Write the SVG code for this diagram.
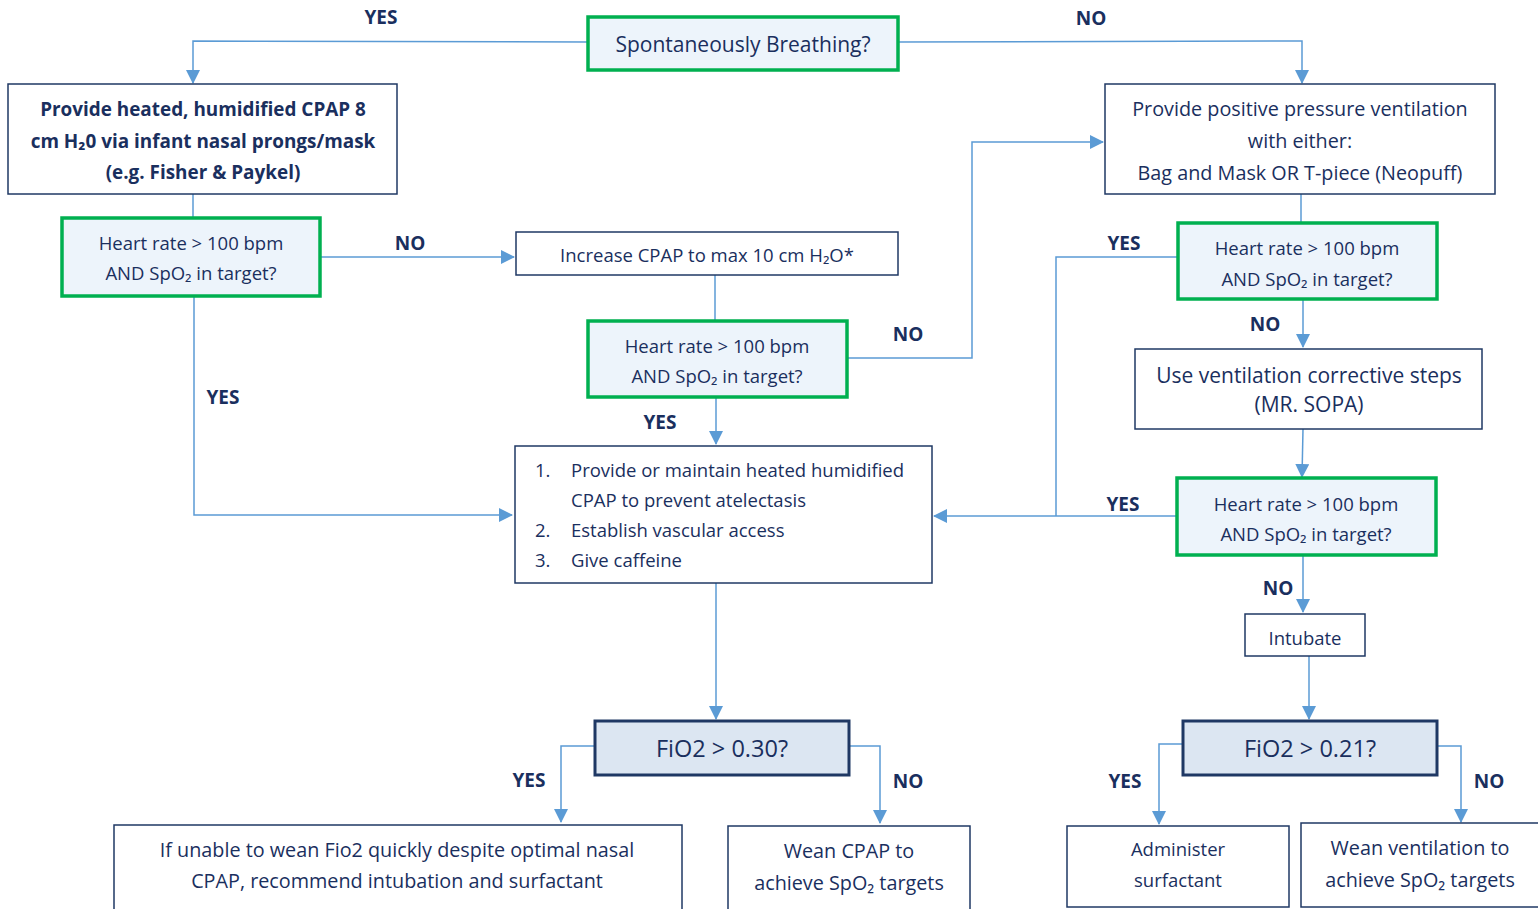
<svg xmlns="http://www.w3.org/2000/svg" width="1538" height="909" viewBox="0 0 1538 909">
<style>
text{font-family:"Open Sans","Noto Sans",sans-serif;fill:#1a2f5e;text-anchor:middle;}
.t{font-size:18.5px;}
.t2{font-size:19.8px;}
.tb{font-size:18.9px;font-weight:bold;}
.lb{font-size:19px;font-weight:bold;}
.big{font-size:21px;}
.fi{font-size:23.5px;}
.box{fill:#fff;stroke:#1f3864;stroke-width:1.5;}
.q{fill:#edf4fb;stroke:#00b050;stroke-width:3.5;}
.f{fill:#dce6f2;stroke:#1f3864;stroke-width:3;}
.c{fill:none;stroke:#5b9bd5;stroke-width:1.5;}
.l{text-anchor:start;}
</style>
<defs>
<marker id="a" markerWidth="14" markerHeight="14" refX="13" refY="7" orient="auto" markerUnits="userSpaceOnUse">
<path d="M0,0 L14,7 L0,14 Z" fill="#5b9bd5"/>
</marker>
</defs>
<rect width="1538" height="909" fill="#fff"/>
<g id="connectors">
<path class="c" d="M588,42 L193,41 L193,83" marker-end="url(#a)"/>
<path class="c" d="M898,42 L1302,41 L1302,83" marker-end="url(#a)"/>
<path class="c" d="M193,194 L193,217"/>
<path class="c" d="M320,257 L514,257" marker-end="url(#a)"/>
<path class="c" d="M194,296 L194,515 L512,515" marker-end="url(#a)"/>
<path class="c" d="M715,275 L715,320"/>
<path class="c" d="M847,358 L972,358 L972,142 L1103,142" marker-end="url(#a)"/>
<path class="c" d="M716,397 L716,444" marker-end="url(#a)"/>
<path class="c" d="M1301,194 L1301,222"/>
<path class="c" d="M1178,257 L1056,257 L1056,516"/>
<path class="c" d="M1303,299 L1303,347" marker-end="url(#a)"/>
<path class="c" d="M1303,429 L1302,477" marker-end="url(#a)"/>
<path class="c" d="M1177,516 L934,516" marker-end="url(#a)"/>
<path class="c" d="M1303,555 L1303,612" marker-end="url(#a)"/>
<path class="c" d="M1309,656 L1309,719" marker-end="url(#a)"/>
<path class="c" d="M716,583 L716,719" marker-end="url(#a)"/>
<path class="c" d="M595,746 L561,746 L561,822" marker-end="url(#a)"/>
<path class="c" d="M849,746 L880,746 L880,823" marker-end="url(#a)"/>
<path class="c" d="M1183,744 L1159,744 L1159,824" marker-end="url(#a)"/>
<path class="c" d="M1437,746 L1461,746 L1461,822" marker-end="url(#a)"/>
</g>
<g id="labels">
<text class="lb" x="381" y="24">YES</text>
<text class="lb" x="1091" y="25">NO</text>
<text class="lb" x="410" y="250">NO</text>
<text class="lb" x="223" y="404">YES</text>
<text class="lb" x="908" y="341">NO</text>
<text class="lb" x="660" y="429">YES</text>
<text class="lb" x="1124" y="250">YES</text>
<text class="lb" x="1265" y="331">NO</text>
<text class="lb" x="1123" y="511">YES</text>
<text class="lb" x="1278" y="595">NO</text>
<text class="lb" x="529" y="787">YES</text>
<text class="lb" x="908" y="788">NO</text>
<text class="lb" x="1125" y="788">YES</text>
<text class="lb" x="1489" y="788">NO</text>
</g>
<g id="n-spont">
<rect class="q" x="588" y="17" width="310" height="53"/>
<text class="big" x="743" y="52">Spontaneously Breathing?</text>
</g>
<g id="n-cpap">
<rect class="box" x="8" y="84" width="389" height="110"/>
<text class="tb" x="203" y="116">Provide heated, humidified CPAP 8</text>
<text class="tb" x="203" y="148">cm H₂0 via infant nasal prongs/mask</text>
<text class="tb" x="203" y="179">(e.g. Fisher &amp; Paykel)</text>
</g>
<g id="n-hr1">
<rect class="q" x="62" y="218" width="258" height="78"/>
<text class="t" x="191" y="250">Heart rate &gt; 100 bpm</text>
<text class="t" x="191" y="280">AND SpO₂ in target?</text>
</g>
<g id="n-increase">
<rect class="box" x="516" y="232" width="382" height="43"/>
<text class="t" x="707" y="262">Increase CPAP to max 10 cm H₂O*</text>
</g>
<g id="n-hr2">
<rect class="q" x="588" y="321" width="259" height="76"/>
<text class="t" x="717" y="353">Heart rate &gt; 100 bpm</text>
<text class="t" x="717" y="383">AND SpO₂ in target?</text>
</g>
<g id="n-list">
<rect class="box" x="515" y="446" width="417" height="137"/>
<text class="t l" x="535" y="477">1.</text>
<text class="t l" x="571" y="477">Provide or maintain heated humidified</text>
<text class="t l" x="571" y="507">CPAP to prevent atelectasis</text>
<text class="t l" x="535" y="537">2.</text>
<text class="t l" x="571" y="537">Establish vascular access</text>
<text class="t l" x="535" y="567">3.</text>
<text class="t l" x="571" y="567">Give caffeine</text>
</g>
<g id="n-ppv">
<rect class="box" x="1105" y="84" width="390" height="110"/>
<text class="t2" x="1300" y="116">Provide positive pressure ventilation</text>
<text class="t2" x="1300" y="148">with either:</text>
<text class="t2" x="1300" y="180">Bag and Mask OR T-piece (Neopuff)</text>
</g>
<g id="n-hr3">
<rect class="q" x="1178" y="223" width="259" height="76"/>
<text class="t" x="1307" y="255">Heart rate &gt; 100 bpm</text>
<text class="t" x="1307" y="286">AND SpO₂ in target?</text>
</g>
<g id="n-sopa">
<rect class="box" x="1135" y="349" width="347" height="80"/>
<text class="big" x="1309" y="383">Use ventilation corrective steps</text>
<text class="big" x="1309" y="412">(MR. SOPA)</text>
</g>
<g id="n-hr4">
<rect class="q" x="1177" y="478" width="259" height="77"/>
<text class="t" x="1306" y="511">Heart rate &gt; 100 bpm</text>
<text class="t" x="1306" y="541">AND SpO₂ in target?</text>
</g>
<g id="n-intubate">
<rect class="box" x="1245" y="614" width="120" height="42"/>
<text class="t" x="1305" y="645">Intubate</text>
</g>
<g id="n-fio2-30">
<rect class="f" x="595" y="721" width="254" height="54"/>
<text class="fi" x="722" y="757">FiO2 &gt; 0.30?</text>
</g>
<g id="n-fio2-21">
<rect class="f" x="1183" y="721" width="254" height="54"/>
<text class="fi" x="1310" y="757">FiO2 &gt; 0.21?</text>
</g>
<g id="n-unable">
<rect class="box" x="114" y="825" width="568" height="90"/>
<text class="t2" x="397" y="857">If unable to wean Fio2 quickly despite optimal nasal</text>
<text class="t2" x="397" y="888">CPAP, recommend intubation and surfactant</text>
</g>
<g id="n-weancpap">
<rect class="box" x="728" y="826" width="242" height="90"/>
<text class="t2" x="849" y="858">Wean CPAP to</text>
<text class="t2" x="849" y="890">achieve SpO₂ targets</text>
</g>
<g id="n-surf">
<rect class="box" x="1067" y="826" width="222" height="81"/>
<text class="t" x="1178" y="856">Administer</text>
<text class="t" x="1178" y="887">surfactant</text>
</g>
<g id="n-weanvent">
<rect class="box" x="1301" y="823" width="245" height="84"/>
<text class="t2" x="1420" y="855">Wean ventilation to</text>
<text class="t2" x="1420" y="887">achieve SpO₂ targets</text>
</g>
</svg>
